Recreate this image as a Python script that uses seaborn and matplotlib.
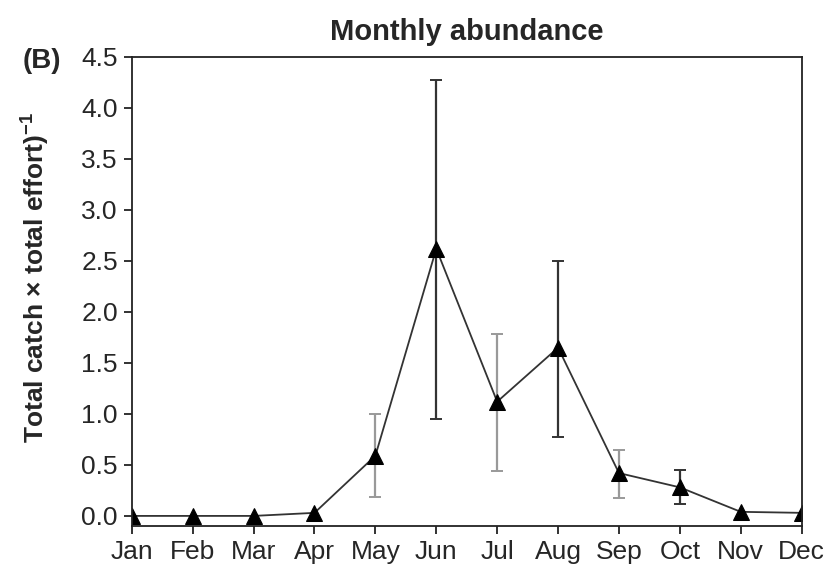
import numpy as np
import pandas as pd
import matplotlib
matplotlib.use("Agg")
import matplotlib.pyplot as plt
import seaborn as sns

months = ["Jan", "Feb", "Mar", "Apr", "May", "Jun", "Jul", "Aug", "Sep", "Oct", "Nov", "Dec"]
abundance = [0.0, 0.0, 0.0, 0.03, 0.59, 2.62, 1.12, 1.65, 0.42, 0.28, 0.04, 0.03]
err_low = [0.0, 0.0, 0.0, 0.0, 0.19, 0.95, 0.44, 0.77, 0.18, 0.12, 0.0, 0.0]
err_high = [0.0, 0.0, 0.0, 0.0, 1.0, 4.27, 1.78, 2.50, 0.65, 0.45, 0.0, 0.0]
err_col = ["#333333"] * 4 + ["#999999", "#333333", "#999999", "#333333", "#999999", "#333333"] + ["#333333"] * 2

sns.set_style("ticks")
plt.rcParams['font.family'] = ['Liberation Sans', 'DejaVu Sans']
plt.rcParams['mathtext.fontset'] = 'custom'
plt.rcParams['mathtext.bf'] = 'Liberation Sans:bold'
plt.rcParams['mathtext.rm'] = 'Liberation Sans'

df = pd.DataFrame({"month": np.arange(len(months)), "abund": abundance})

fig = plt.figure(figsize=(8.29, 5.70), dpi=100)
ax = fig.add_axes([0.159, 0.077, 0.808, 0.823])

# error bars first so the line and markers sit on top
for i in range(len(months)):
    if err_high[i] > err_low[i]:
        ax.errorbar(i, abundance[i],
                    yerr=[[abundance[i] - err_low[i]], [err_high[i] - abundance[i]]],
                    fmt="none", ecolor=err_col[i], elinewidth=1.6, capsize=4, capthick=1.4)

sns.lineplot(data=df, x="month", y="abund", ax=ax, color="#333333", linewidth=1.3,
             marker="^", markersize=12, markerfacecolor="black", markeredgecolor="black")

ax.set_xlim(0, 11)
ax.set_ylim(-0.1, 4.5)
ax.set_xticks(np.arange(len(months)))
ax.set_xticklabels(months)
ax.set_yticks(np.arange(0, 4.6, 0.5))
ax.set_yticklabels(["%.1f" % v for v in np.arange(0, 4.6, 0.5)])
ax.tick_params(axis="both", labelsize=19, length=6, width=1.3, direction="out", color="#222222", pad=4)
for s in ax.spines.values():
    s.set_linewidth(1.3)
    s.set_color("#222222")
ax.set_xlabel("")
ax.set_ylabel("Total catch × total effort)$^{\\mathbf{-1}}$", fontsize=19, fontweight="bold")
ax.yaxis.set_label_coords(-0.12, 0.53)
ax.set_title("Monthly abundance", fontsize=21, fontweight="bold", pad=12)
fig.text(0.027, 0.88, "(B)", fontsize=20, fontweight="bold")

fig.savefig("out.png", dpi=100)
